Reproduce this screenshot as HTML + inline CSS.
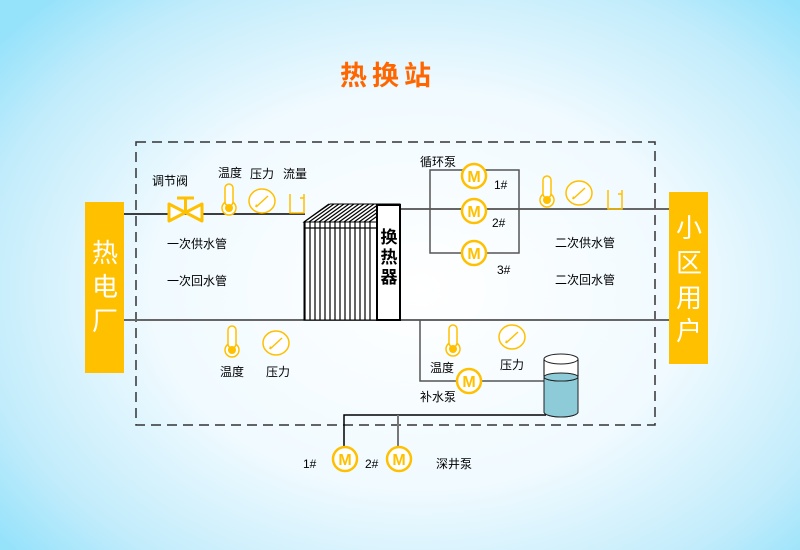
<!DOCTYPE html>
<html><head><meta charset="utf-8"><style>
html,body{margin:0;padding:0;width:800px;height:550px;overflow:hidden}
body{background:radial-gradient(ellipse 540px 400px at 420px 290px,#ffffff 0%,#f0faff 50%,#c2ecfb 82%,#95e2fb 100%)}
svg{position:absolute;left:0;top:0}
text{font-family:"Liberation Sans","Noto Sans CJK SC",sans-serif;font-size:12px;fill:#000}
</style></head><body>
<svg width="800" height="550" viewBox="0 0 800 550">
<defs>
<g id="pump"><circle r="12" fill="#fff" stroke="#ffc000" stroke-width="2.5"/><text x="0" y="6" text-anchor="middle" style="font-size:16px;font-weight:bold;fill:#ffc000">M</text></g>
<g id="thermo"><circle cx="0" cy="24" r="7" fill="#fff" stroke="#ffc000" stroke-width="1.5"/><rect x="-4" y="0" width="8" height="22" rx="4" fill="#fff" stroke="#ffc000" stroke-width="1.5"/><circle cx="0" cy="24" r="4" fill="#ffc000"/></g>
<g id="gauge"><ellipse rx="13" ry="12" fill="#fff" stroke="#ffc000" stroke-width="1.5"/><line x1="-6" y1="6" x2="6" y2="-5" stroke="#ffc000" stroke-width="1.5"/><path d="M-7 6 l3 -1 l-2 -2z" fill="#ffc000"/></g>
<g id="flow"><path d="M0 0 V19 H14 V0 M10 4 H14" fill="none" stroke="#ffc000" stroke-width="1.5"/></g>
</defs>

<text x="388" y="85" text-anchor="middle" style="font-size:27px;font-weight:bold;fill:#ff6600;letter-spacing:5px">热换站</text>

<rect x="136" y="142" width="519" height="283" fill="none" stroke="#333" stroke-width="1.5" stroke-dasharray="10,6"/>

<line x1="124" y1="214" x2="305" y2="214" stroke="#000" stroke-width="1.5"/>
<line x1="400" y1="209" x2="669" y2="209" stroke="#666" stroke-width="2"/>
<line x1="124" y1="320" x2="669" y2="320" stroke="#666" stroke-width="2"/>
<line x1="400" y1="209" x2="400" y2="320" stroke="#000" stroke-width="1.5"/>

<rect x="85" y="202" width="39" height="171" fill="#ffc000"/>
<text x="105" y="262" text-anchor="middle" style="font-size:26px;fill:#fff">热</text>
<text x="105" y="296" text-anchor="middle" style="font-size:26px;fill:#fff">电</text>
<text x="105" y="330" text-anchor="middle" style="font-size:26px;fill:#fff">厂</text>
<rect x="669" y="192" width="39" height="172" fill="#ffc000"/>
<text x="689" y="237" text-anchor="middle" style="font-size:26px;fill:#fff">小</text>
<text x="689" y="272" text-anchor="middle" style="font-size:26px;fill:#fff">区</text>
<text x="689" y="307" text-anchor="middle" style="font-size:26px;fill:#fff">用</text>
<text x="689" y="340" text-anchor="middle" style="font-size:26px;fill:#fff">户</text>

<path d="M169 204 L202 221 V204 L169 221Z" fill="#fff" stroke="#ffc000" stroke-width="3" stroke-linejoin="round"/>
<line x1="185.5" y1="198" x2="185.5" y2="212" stroke="#ffc000" stroke-width="3"/>
<line x1="177" y1="198" x2="194" y2="198" stroke="#ffc000" stroke-width="3"/>

<use href="#thermo" x="229" y="184"/>
<use href="#gauge" x="262" y="201"/>
<use href="#flow" x="290" y="194"/>
<text x="152" y="185">调节阀</text>
<text x="218" y="177">温度</text>
<text x="250" y="178">压力</text>
<text x="283" y="178">流量</text>
<text x="167" y="248">一次供水管</text>
<text x="167" y="285">一次回水管</text>

<g stroke="#000" stroke-width="1" fill="#fff">
<path d="M304 222 L330 204 L400 204 L400 205 L377 222Z"/>
<rect x="304" y="222" width="73" height="98"/>
</g>
<g stroke="#000" stroke-width="1.2">
<line x1="304" y1="222" x2="329" y2="204"/><line x1="309" y1="222" x2="334" y2="204"/><line x1="314" y1="222" x2="339" y2="204"/><line x1="319" y1="222" x2="344" y2="204"/><line x1="324" y1="222" x2="349" y2="204"/><line x1="329" y1="222" x2="354" y2="204"/><line x1="334" y1="222" x2="359" y2="204"/><line x1="339" y1="222" x2="364" y2="204"/><line x1="344" y1="222" x2="369" y2="204"/><line x1="349" y1="222" x2="374" y2="204"/><line x1="354" y1="222" x2="379" y2="204"/><line x1="359" y1="222" x2="384" y2="204"/><line x1="364" y1="222" x2="389" y2="204"/><line x1="369" y1="222" x2="394" y2="204"/>
<line x1="305" y1="222" x2="305" y2="320"/><line x1="310" y1="222" x2="310" y2="320"/><line x1="315" y1="222" x2="315" y2="320"/><line x1="320" y1="222" x2="320" y2="320"/><line x1="325" y1="222" x2="325" y2="320"/><line x1="330" y1="222" x2="330" y2="320"/><line x1="335" y1="222" x2="335" y2="320"/><line x1="340" y1="222" x2="340" y2="320"/><line x1="345" y1="222" x2="345" y2="320"/><line x1="350" y1="222" x2="350" y2="320"/><line x1="355" y1="222" x2="355" y2="320"/><line x1="360" y1="222" x2="360" y2="320"/><line x1="365" y1="222" x2="365" y2="320"/><line x1="370" y1="222" x2="370" y2="320"/>
<line x1="304" y1="228" x2="377" y2="228"/>
</g>
<rect x="377" y="205" width="23" height="115" fill="#fff" stroke="#000" stroke-width="2"/>
<text x="389" y="243" text-anchor="middle" style="font-size:17px;font-weight:bold">换</text>
<text x="389" y="263" text-anchor="middle" style="font-size:17px;font-weight:bold">热</text>
<text x="389" y="283" text-anchor="middle" style="font-size:17px;font-weight:bold">器</text>

<rect x="430" y="170" width="89" height="83" fill="none" stroke="#555" stroke-width="1.5"/>
<use href="#pump" x="474" y="176"/>
<use href="#pump" x="474" y="211"/>
<use href="#pump" x="474" y="253"/>
<text x="420" y="166">循环泵</text>
<text x="494" y="189">1#</text>
<text x="492" y="227">2#</text>
<text x="497" y="274">3#</text>

<use href="#thermo" x="547" y="176"/>
<use href="#gauge" x="579" y="193"/>
<use href="#flow" x="608" y="190"/>
<text x="555" y="247">二次供水管</text>
<text x="555" y="284">二次回水管</text>

<use href="#thermo" x="232" y="326"/>
<use href="#gauge" x="276" y="343"/>
<text x="220" y="376">温度</text>
<text x="266" y="376">压力</text>

<path d="M420 320 V381 H545" fill="none" stroke="#555" stroke-width="1.5"/>
<use href="#thermo" x="453" y="325"/>
<use href="#gauge" x="512" y="337"/>
<use href="#pump" x="469" y="381"/>
<text x="430" y="372">温度</text>
<text x="500" y="369">压力</text>
<text x="420" y="401">补水泵</text>

<path d="M344 460 V415 H546" fill="none" stroke="#000" stroke-width="1.5"/>
<line x1="398" y1="415" x2="398" y2="460" stroke="#777" stroke-width="2"/>
<path d="M544 359 V412 A17 5 0 0 0 578 412 V359" fill="#fff" stroke="#000" stroke-width="1"/>
<path d="M544 377 A17 4 0 0 0 578 377 V412 A17 5 0 0 1 544 412Z" fill="#8ecbd8" stroke="#222" stroke-width="1"/>
<ellipse cx="561" cy="377" rx="17" ry="4" fill="#8ecbd8" stroke="#222" stroke-width="1"/>
<ellipse cx="561" cy="359" rx="17" ry="5" fill="#fff" stroke="#222" stroke-width="1"/>

<use href="#pump" x="345" y="459"/>
<use href="#pump" x="399" y="459"/>
<text x="303" y="468">1#</text>
<text x="365" y="468">2#</text>
<text x="436" y="468">深井泵</text>
</svg>
</body></html>
